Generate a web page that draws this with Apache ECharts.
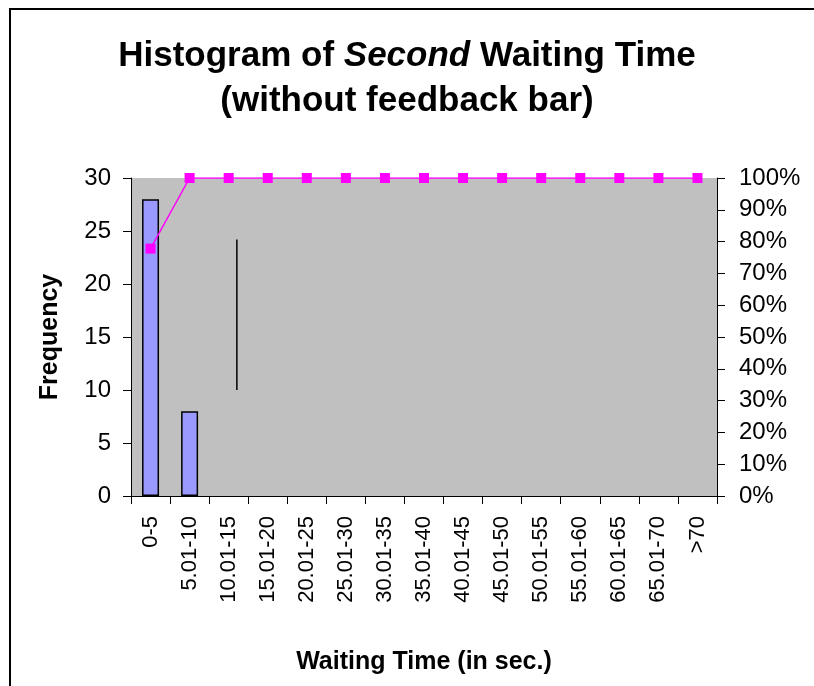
<!DOCTYPE html>
<html lang="en">
  <head>
    <meta charset="UTF-8" />
    <title>second waiting time</title>
    <style>
      body {
        margin: 0;
        background-color: #fff;
      }
      #frame {
        position: absolute;
        left: 9px;
        top: 8px;
        width: 1000px;
        height: 1000px;
        border-top: 2px solid #000;
        border-left: 2px solid #000;
      }
      #main {
        position: absolute;
        left: 0;
        top: 0;
        width: 814px;
        height: 686px;
      }
    </style>
  </head>
  <body>
    <div id="frame"></div>
    <div id="main"></div>
    <script src="https://cdn.jsdelivr.net/npm/echarts@6/dist/echarts.min.js"></script>
    <script>
      // 分组区间
      const bins = [
        "0-5", "5.01-10", "10.01-15", "15.01-20", "20.01-25", "25.01-30",
        "30.01-35", "35.01-40", "40.01-45", "45.01-50", "50.01-55",
        "55.01-60", "60.01-65", "65.01-70", ">70",
      ];
      // 频数
      const frequency = [28, 8, 0, 0, 0, 0, 0, 0, 0, 0, 0, 0, 0, 0, 0];
      // 累计百分比
      const cumulative = [0.778, 1, 1, 1, 1, 1, 1, 1, 1, 1, 1, 1, 1, 1, 1];
      // 图中那条黑色竖线 [x位置(按类别计), 频数]
      const strayLine = [[2.71, 10], [2.71, 24.2]];

      const font = "Liberation Sans, Arial, sans-serif";
      // 频数为0的柱子不画（否则边框会画出一条横线）
      const barData = frequency.map((v) => (v === 0 ? "-" : v));

      let mchart = echarts.init(document.getElementById("main"));
      let option = {
        animation: false,
        textStyle: { fontFamily: font },
        title: {
          left: "center",
          top: 29,
          text: "{b|Histogram of }{i|Second}{b| Waiting Time}\n{b|(without feedback bar)}",
          textStyle: {
            rich: {
              b: { fontSize: 35, fontWeight: "bold", color: "#000", fontFamily: font, lineHeight: 45 },
              i: { fontSize: 35, fontWeight: "bold", fontStyle: "italic", color: "#000", fontFamily: font, lineHeight: 45 },
            },
          },
        },
        grid: {
          left: 131,
          right: 97,
          top: 178,
          bottom: 190,
          show: true,
          backgroundColor: "#c0c0c0",
          borderWidth: 0,
        },
        xAxis: [
          {
            type: "category",
            data: bins,
            name: "Waiting Time (in sec.)",
            nameLocation: "middle",
            nameGap: 154,
            nameTextStyle: { fontSize: 25, fontWeight: "bold", color: "#000" },
            axisLine: { lineStyle: { color: "#000", width: 1 } },
            axisTick: { show: true, length: 8, lineStyle: { color: "#000" } },
            axisLabel: { rotate: 90, fontSize: 22, color: "#000", margin: 20, interval: 0 },
          },
          {
            type: "value",
            min: 0,
            max: 15,
            show: false,
          },
        ],
        yAxis: [
          {
            type: "value",
            min: 0,
            max: 30,
            interval: 5,
            name: "Frequency",
            nameLocation: "middle",
            nameGap: 68,
            nameTextStyle: { fontSize: 25, fontWeight: "bold", color: "#000" },
            axisLine: { show: true, lineStyle: { color: "#000" } },
            axisTick: { show: true, length: 8, lineStyle: { color: "#000" } },
            axisLabel: { fontSize: 24, color: "#000", margin: 20 },
            splitLine: { show: false },
          },
          {
            type: "value",
            min: 0,
            max: 1,
            interval: 0.1,
            position: "right",
            axisLine: { show: true, lineStyle: { color: "#000" } },
            axisTick: { show: true, length: 8, lineStyle: { color: "#000" } },
            axisLabel: {
              fontSize: 24,
              color: "#000",
              margin: 22,
              formatter: (v) => Math.round(v * 100) + "%",
            },
            splitLine: { show: false },
          },
        ],
        series: [
          {
            name: "Frequency",
            type: "bar",
            data: barData,
            barWidth: 17,
            itemStyle: { color: "#9999ff", borderColor: "#000", borderWidth: 1.5 },
          },
          {
            name: "Cumulative %",
            type: "line",
            yAxisIndex: 1,
            data: cumulative,
            symbol: "rect",
            symbolSize: 10,
            lineStyle: { color: "#ff00ff", width: 1.5 },
            itemStyle: { color: "#ff00ff" },
          },
          {
            type: "line",
            xAxisIndex: 1,
            yAxisIndex: 0,
            data: strayLine,
            symbol: "none",
            lineStyle: { color: "#000", width: 1.5 },
          },
        ],
      };
      mchart.setOption(option);
    </script>
  </body>
</html>
